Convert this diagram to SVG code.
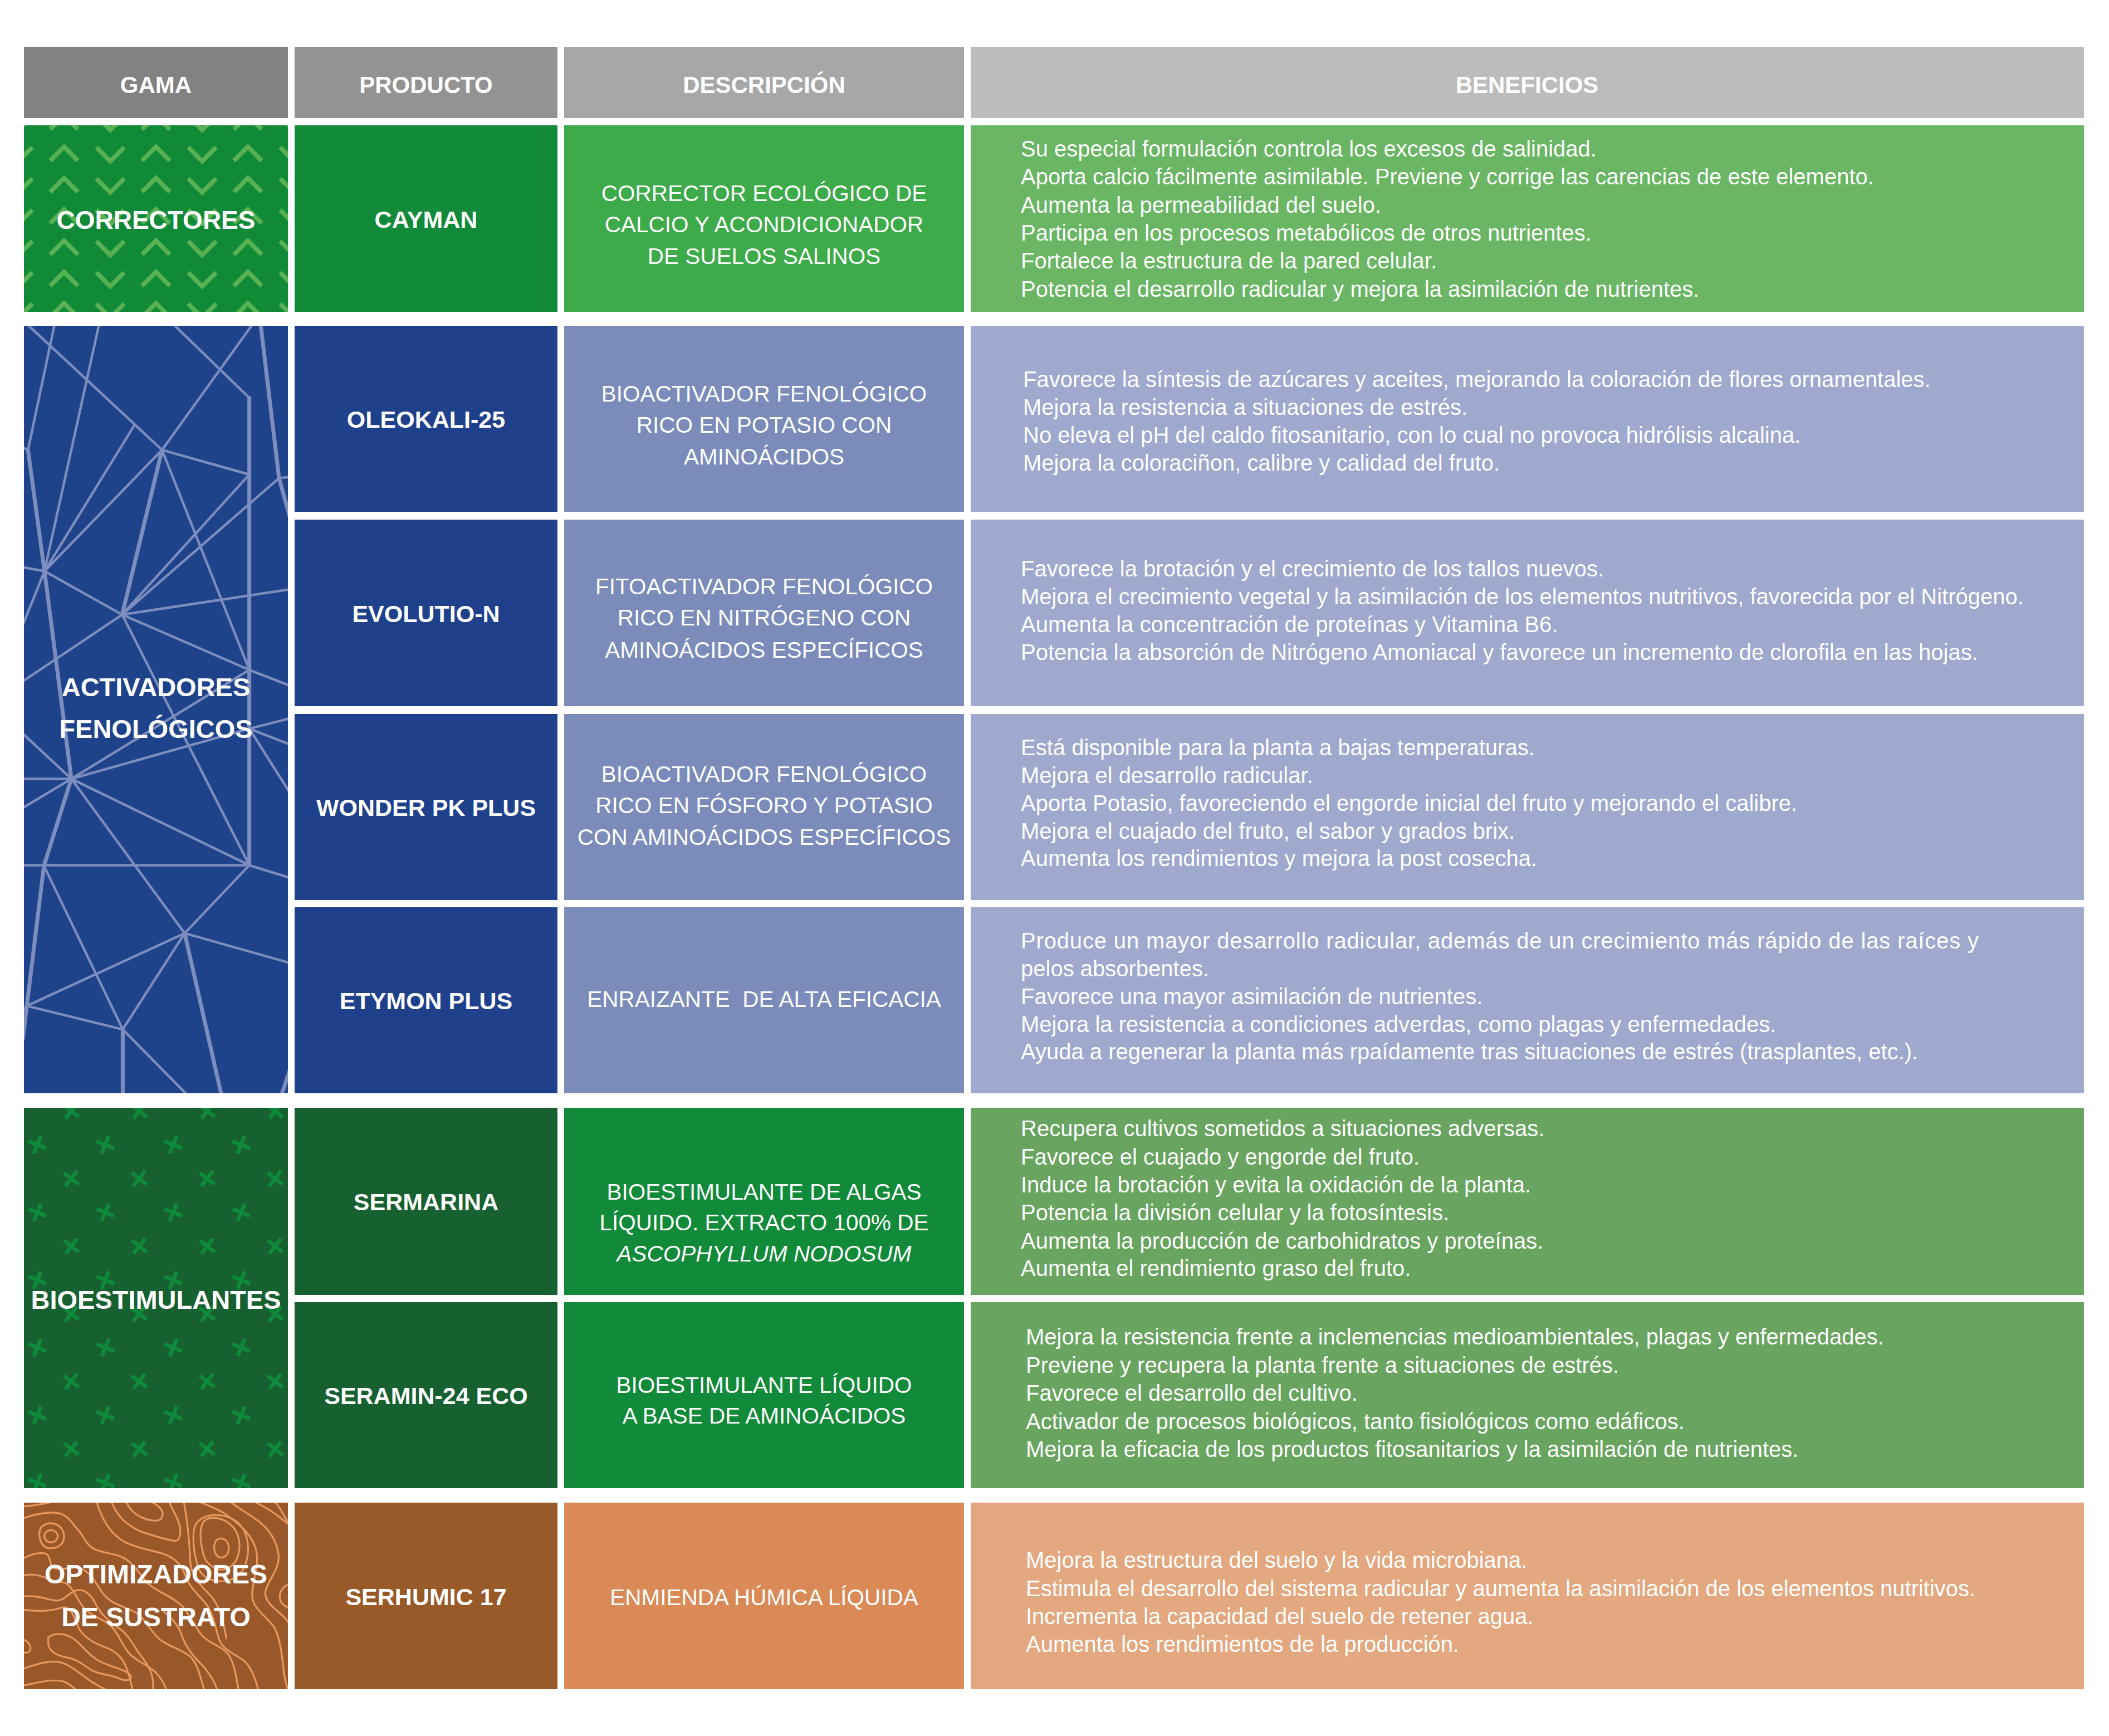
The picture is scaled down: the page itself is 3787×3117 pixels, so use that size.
<svg xmlns="http://www.w3.org/2000/svg" width="3787" height="3117" viewBox="0 0 3787 3117">
<style>
text{font-family:"Liberation Sans",Arial,sans-serif;fill:#ffffff}
.hd{font-weight:bold;font-size:42px;text-anchor:middle}
.gm{font-weight:bold;font-size:47px;text-anchor:middle}
.pr{font-weight:bold;font-size:43px;text-anchor:middle}
.ds{font-size:40.5px;text-anchor:middle}
.bn{font-size:40px}
.net{fill:none;stroke:#7d8dbe;vector-effect:non-scaling-stroke;stroke-linecap:round}
.topo{fill:none;stroke:#e8985e;stroke-width:3.2;vector-effect:non-scaling-stroke}
</style>
<defs>
<pattern id="pChev" patternUnits="userSpaceOnUse" x="74" y="23.7" width="165" height="56.2">
<g fill="none" stroke="#58b152" stroke-width="8">
<polyline points="16,40 41,15 66,40"/>
<polyline points="99,16 124,41 149,16"/>
</g>
</pattern>
<pattern id="pCross" patternUnits="userSpaceOnUse" x="36.5" y="2025.15" width="122" height="121.4">
<g stroke="#0e8a3b" stroke-width="6.5">
<g transform="translate(30.5,30.35) rotate(22)"><line x1="-17" y1="0" x2="17" y2="0"/><line x1="0" y1="-17" x2="0" y2="17"/></g>
<g transform="translate(91.5,91.05) rotate(38)"><line x1="-17" y1="0" x2="17" y2="0"/><line x1="0" y1="-17" x2="0" y2="17"/></g>
</g>
</pattern>
<clipPath id="cAct"><rect x="43" y="585" width="474" height="1378"/></clipPath>
<clipPath id="cOpt"><rect x="43" y="2698" width="474" height="335"/></clipPath>
</defs>
<rect width="3787" height="3117" fill="#ffffff"/>

<g id="header">
<rect x="43" y="84" width="474" height="128" fill="#818281"/>
<rect x="529" y="84" width="472" height="128" fill="#929392"/>
<rect x="1013" y="84" width="718" height="128" fill="#a6a7a6"/>
<rect x="1743" y="84" width="1999" height="128" fill="#bcbcbc"/>
<text class="hd" x="280" y="167">GAMA</text>
<text class="hd" x="765" y="167">PRODUCTO</text>
<text class="hd" x="1372" y="167">DESCRIPCIÓN</text>
<text class="hd" x="2742" y="167">BENEFICIOS</text>
</g>

<g id="gama-correctores">
<rect x="43" y="225" width="474" height="335" fill="#118a38"/>
<rect x="43" y="225" width="474" height="335" fill="url(#pChev)"/>
<text class="gm" x="280" y="411" style="font-size:46px">CORRECTORES</text>
</g>

<g id="gama-activadores">
<rect x="43" y="585" width="474" height="1378" fill="#1e438b"/>
<g clip-path="url(#cAct)">
<g transform="translate(0,560) scale(0.34435,0.91827)">
<path class="net" stroke-width="4.5" d="M150,27 L845,270 M283,27 L146,270 M146,270 L100,262 M515,27 L232,507 M700,222 L232,507 M845,270 L232,507 M845,270 L1300,318 M845,270 L1300,700 M845,270 L1312,27 M912,27 L1300,168 M1455,325 L1540,322 M1455,325 L637,592 M1300,318 L637,592 M232,507 L637,592 M100,498 L232,507 M100,630 L232,507 M637,592 L1540,541 M637,592 L1300,700 M637,592 L1300,1082 M100,727 L637,592 M1300,700 L1540,735 M372,913 L1300,700 M372,913 L1300,815 M1300,815 L1540,792 M1300,815 L1540,850 M1300,815 L1540,957 M100,818 L372,913 M100,913 L372,913 M100,974 L372,913 M372,913 L1300,1082 M372,913 L963,1215 M100,1082 L1300,1082 M1300,1082 L1540,1110 M1300,1082 L963,1215 M229,1083 L640,1403 M963,1215 L140,1357 M963,1215 L640,1403 M963,1215 L1540,1276 M140,1357 L640,1403 M140,1357 L100,1376 M640,1403 L1000,1540"/>
<path class="net" stroke-width="7" d="M146,270 L232,507 L372,913 M845,270 L637,592 M1300,168 L1300,1082 M1360,27 L1455,325 L1540,440 M372,913 L229,1083 L140,1357 L120,1420 M963,1215 L1160,1540 M640,1403 L640,1540 M1540,1450 L1460,1540"/>
</g>
</g>
<text class="gm" x="280" y="1250">ACTIVADORES</text>
<text class="gm" x="280" y="1325">FENOLÓGICOS</text>
</g>

<g id="gama-bioestimulantes">
<rect x="43" y="1989" width="474" height="683" fill="#176130"/>
<rect x="43" y="1989" width="474" height="683" fill="url(#pCross)"/>
<text class="gm" x="280" y="2350">BIOESTIMULANTES</text>
</g>

<g id="gama-optimizadores">
<rect x="43" y="2698" width="474" height="335" fill="#98582a"/>
<g clip-path="url(#cOpt)">
<g transform="translate(40,2690) scale(0.33333)">
<path class="topo" d="M0,45 C80,40 140,25 170,18"/>
<path class="topo" d="M0,110 C60,90 130,70 190,80 C250,90 270,140 300,170 C330,200 340,250 390,275 C450,300 520,300 560,330 C620,370 640,430 690,470 C740,510 810,530 860,580 C900,620 930,690 960,730 C1000,780 1060,790 1100,830 C1140,870 1150,950 1170,1060"/>
<path class="topo" d="M100,160 C130,120 200,130 220,180 C240,240 200,270 150,270 C100,270 80,200 100,160 Z"/>
<ellipse class="topo" cx="155" cy="205" rx="36" ry="33"/>
<path class="topo" d="M0,330 C40,300 100,290 130,300 C160,320 140,370 180,380 C230,390 270,360 320,380 C380,410 400,470 440,520 C480,570 540,580 600,610 C660,640 690,720 740,760 C790,800 850,810 900,850 C950,890 960,980 990,1060"/>
<path class="topo" d="M0,420 C50,400 110,420 150,440 C190,460 220,440 250,470 C290,510 300,560 340,600 C380,640 440,650 480,690 C520,730 540,800 580,840 C620,880 680,900 720,940 C760,980 770,1020 790,1060"/>
<path class="topo" d="M0,530 C60,520 120,540 170,550 C220,560 240,520 280,500 C330,480 370,520 390,560 C420,620 460,660 520,700 C580,740 600,800 640,850 C680,900 720,960 700,1060"/>
<path class="topo" d="M0,600 C70,610 150,610 210,590 C260,575 280,640 300,690 C320,740 380,780 440,800 C500,820 540,860 560,910 C575,950 590,1000 600,1060"/>
<path class="topo" d="M0,760 C40,770 60,820 30,830 C15,835 5,830 0,826"/>
<path class="topo" d="M0,920 C60,900 120,880 170,880 C230,880 280,920 320,950 C360,980 400,1010 470,1040"/>
<path class="topo" d="M0,1010 C100,990 170,970 230,990 C270,1010 300,1040 310,1060"/>
<path class="topo" d="M140,750 C180,720 240,730 280,760 C330,800 360,850 420,880 C480,910 550,920 580,950 C600,980 560,990 520,970 C470,950 420,950 380,930 C330,900 300,870 250,860 C190,850 150,830 140,790 Z"/>
<path class="topo" d="M560,18 C580,70 630,110 700,120 C760,130 770,80 740,50 C720,30 700,22 690,18"/>
<path class="topo" d="M480,18 C510,100 570,150 640,180 C700,200 760,220 820,230 C860,230 860,160 830,100 C810,60 800,40 790,18"/>
<path class="topo" d="M400,18 C430,120 480,200 560,240 C620,270 700,280 760,300 C820,320 860,360 880,420 C900,480 950,520 990,570 C1030,620 1040,700 1060,760 C1080,820 1150,840 1200,880 C1240,920 1260,990 1280,1060"/>
<path class="topo" d="M870,18 C890,120 900,220 905,340 C910,420 960,470 1010,520 C1070,580 1090,700 1100,760"/>
<path class="topo" d="M960,22 C1000,40 1060,60 1100,90 C1170,140 1240,200 1260,280 C1280,380 1230,460 1240,540 C1250,600 1320,640 1360,700 C1390,760 1400,850 1410,950 C1420,1000 1430,1030 1440,1060"/>
<path class="topo" d="M1120,18 C1170,60 1230,90 1280,130 C1330,170 1370,230 1380,300 C1390,380 1330,430 1310,500 C1300,560 1370,600 1410,640 C1430,660 1440,680 1450,690"/>
<path class="topo" d="M1250,18 C1290,40 1330,60 1370,90 C1410,120 1430,140 1450,150"/>
<path class="topo" d="M1360,18 C1390,50 1400,80 1420,110 C1430,130 1440,135 1450,140"/>
<path class="topo" d="M1450,460 C1400,470 1380,510 1390,550 C1400,580 1430,590 1450,590"/>
<path class="topo" d="M930,150 C960,80 1080,70 1160,130 C1240,200 1230,360 1160,420 C1090,470 980,450 950,380 C930,320 910,220 930,150 Z"/>
<path class="topo" d="M1040,235 C1060,205 1100,215 1110,250 C1120,290 1100,320 1070,320 C1040,318 1025,270 1040,235 Z"/>
<path class="topo" d="M975,130 C1000,90 1080,100 1130,150 C1190,210 1180,330 1120,370 C1060,410 990,360 975,300 C960,240 950,170 975,130 Z"/>
<path class="topo" d="M1060,1060 C1040,990 1000,930 960,890 C920,850 880,800 860,740 C840,680 800,640 760,610"/>
</g>
</g>
<text class="gm" x="280" y="2843" style="font-size:48px">OPTIMIZADORES</text>
<text class="gm" x="280" y="2920" style="font-size:48px">DE SUSTRATO</text>
</g>

<g id="row-cayman">
<rect x="529" y="225" width="472" height="335" fill="#118b3a"/>
<rect x="1013" y="225" width="718" height="335" fill="#3dab49"/>
<rect x="1743" y="225" width="1999" height="335" fill="#6ab664"/>
<text class="pr" x="765" y="409">CAYMAN</text>
<text class="ds" x="1372" y="360.5">CORRECTOR ECOLÓGICO DE</text>
<text class="ds" x="1372" y="417">CALCIO Y ACONDICIONADOR</text>
<text class="ds" x="1372" y="474">DE SUELOS SALINOS</text>
<text class="bn" x="1833" y="280.5">Su especial formulación controla los excesos de salinidad.</text>
<text class="bn" x="1833" y="331">Aporta calcio fácilmente asimilable. Previene y corrige las carencias de este elemento.</text>
<text class="bn" x="1833" y="381.5">Aumenta la permeabilidad del suelo.</text>
<text class="bn" x="1833" y="431.7">Participa en los procesos metabólicos de otros nutrientes.</text>
<text class="bn" x="1833" y="482">Fortalece la estructura de la pared celular.</text>
<text class="bn" x="1833" y="532.7">Potencia el desarrollo radicular y mejora la asimilación de nutrientes.</text>
</g>

<g id="row-oleokali">
<rect x="529" y="585" width="472" height="334" fill="#1f418c"/>
<rect x="1013" y="585" width="718" height="334" fill="#7b8bba"/>
<rect x="1743" y="585" width="1999" height="334" fill="#9fa8cd"/>
<text class="pr" x="765" y="768">OLEOKALI-25</text>
<text class="ds" x="1372" y="721">BIOACTIVADOR FENOLÓGICO</text>
<text class="ds" x="1372" y="777">RICO EN POTASIO CON</text>
<text class="ds" x="1372" y="834">AMINOÁCIDOS</text>
<text class="bn" x="1837" y="695.4">Favorece la síntesis de azúcares y aceites, mejorando la coloración de flores ornamentales.</text>
<text class="bn" x="1837" y="745">Mejora la resistencia a situaciones de estrés.</text>
<text class="bn" x="1837" y="795">No eleva el pH del caldo fitosanitario, con lo cual no provoca hidrólisis alcalina.</text>
<text class="bn" x="1837" y="845">Mejora la coloraciñon, calibre y calidad del fruto.</text>
</g>

<g id="row-evolutio">
<rect x="529" y="933" width="472" height="335" fill="#1f418c"/>
<rect x="1013" y="933" width="718" height="335" fill="#7b8bba"/>
<rect x="1743" y="933" width="1999" height="335" fill="#9fa8cd"/>
<text class="pr" x="765" y="1117">EVOLUTIO-N</text>
<text class="ds" x="1372" y="1067">FITOACTIVADOR FENOLÓGICO</text>
<text class="ds" x="1372" y="1123">RICO EN NITRÓGENO CON</text>
<text class="ds" x="1372" y="1181">AMINOÁCIDOS ESPECÍFICOS</text>
<text class="bn" x="1833" y="1035">Favorece la brotación y el crecimiento de los tallos nuevos.</text>
<text class="bn" x="1833" y="1085">Mejora el crecimiento vegetal y la asimilación de los elementos nutritivos, favorecida por el Nitrógeno.</text>
<text class="bn" x="1833" y="1135">Aumenta la concentración de proteínas y Vitamina B6.</text>
<text class="bn" x="1833" y="1185">Potencia la absorción de Nitrógeno Amoniacal y favorece un incremento de clorofila en las hojas.</text>
</g>

<g id="row-wonder">
<rect x="529" y="1282" width="472" height="334" fill="#1f418c"/>
<rect x="1013" y="1282" width="718" height="334" fill="#7b8bba"/>
<rect x="1743" y="1282" width="1999" height="334" fill="#9fa8cd"/>
<text class="pr" x="765" y="1465">WONDER PK PLUS</text>
<text class="ds" x="1372" y="1404">BIOACTIVADOR FENOLÓGICO</text>
<text class="ds" x="1372" y="1460">RICO EN FÓSFORO Y POTASIO</text>
<text class="ds" x="1372" y="1517">CON AMINOÁCIDOS ESPECÍFICOS</text>
<text class="bn" x="1833" y="1356">Está disponible para la planta a bajas temperaturas.</text>
<text class="bn" x="1833" y="1405.5">Mejora el desarrollo radicular.</text>
<text class="bn" x="1833" y="1455.5">Aporta Potasio, favoreciendo el engorde inicial del fruto y mejorando el calibre.</text>
<text class="bn" x="1833" y="1505.5">Mejora el cuajado del fruto, el sabor y grados brix.</text>
<text class="bn" x="1833" y="1555">Aumenta los rendimientos y mejora la post cosecha.</text>
</g>

<g id="row-etymon">
<rect x="529" y="1629" width="472" height="334" fill="#1f418c"/>
<rect x="1013" y="1629" width="718" height="334" fill="#7b8bba"/>
<rect x="1743" y="1629" width="1999" height="334" fill="#9fa8cd"/>
<text class="pr" x="765" y="1812">ETYMON PLUS</text>
<text class="ds" x="1372" y="1808" xml:space="preserve">ENRAIZANTE  DE ALTA EFICACIA</text>
<text class="bn" x="1833" y="1703" textLength="1720" lengthAdjust="spacing">Produce un mayor desarrollo radicular, además de un crecimiento más rápido de las raíces y</text>
<text class="bn" x="1833" y="1753">pelos absorbentes.</text>
<text class="bn" x="1833" y="1803">Favorece una mayor asimilación de nutrientes.</text>
<text class="bn" x="1833" y="1853">Mejora la resistencia a condiciones adverdas, como plagas y enfermedades.</text>
<text class="bn" x="1833" y="1902">Ayuda a regenerar la planta más rpaídamente tras situaciones de estrés (trasplantes, etc.).</text>
</g>

<g id="row-sermarina">
<rect x="529" y="1989" width="472" height="336" fill="#176130"/>
<rect x="1013" y="1989" width="718" height="336" fill="#118b3a"/>
<rect x="1743" y="1989" width="1999" height="336" fill="#69a460"/>
<text class="pr" x="765" y="2173">SERMARINA</text>
<text class="ds" x="1372" y="2154">BIOESTIMULANTE DE ALGAS</text>
<text class="ds" x="1372" y="2209">LÍQUIDO. EXTRACTO 100% DE</text>
<text class="ds" x="1372" y="2265" font-style="italic">ASCOPHYLLUM NODOSUM</text>
<text class="bn" x="1833" y="2040">Recupera cultivos sometidos a situaciones adversas.</text>
<text class="bn" x="1833" y="2090.5">Favorece el cuajado y engorde del fruto.</text>
<text class="bn" x="1833" y="2140.5">Induce la brotación y evita la oxidación de la planta.</text>
<text class="bn" x="1833" y="2191">Potencia la división celular y la fotosíntesis.</text>
<text class="bn" x="1833" y="2241.5">Aumenta la producción de carbohidratos y proteínas.</text>
<text class="bn" x="1833" y="2291">Aumenta el rendimiento graso del fruto.</text>
</g>

<g id="row-seramin">
<rect x="529" y="2338" width="472" height="334" fill="#176130"/>
<rect x="1013" y="2338" width="718" height="334" fill="#118b3a"/>
<rect x="1743" y="2338" width="1999" height="334" fill="#69a460"/>
<text class="pr" x="765" y="2521">SERAMIN-24 ECO</text>
<text class="ds" x="1372" y="2501">BIOESTIMULANTE LÍQUIDO</text>
<text class="ds" x="1372" y="2556">A BASE DE AMINOÁCIDOS</text>
<text class="bn" x="1842" y="2414">Mejora la resistencia frente a inclemencias medioambientales, plagas y enfermedades.</text>
<text class="bn" x="1842" y="2464.5">Previene y recupera la planta frente a situaciones de estrés.</text>
<text class="bn" x="1842" y="2515">Favorece el desarrollo del cultivo.</text>
<text class="bn" x="1842" y="2565.5">Activador de procesos biológicos, tanto fisiológicos como edáficos.</text>
<text class="bn" x="1842" y="2615.5">Mejora la eficacia de los productos fitosanitarios y la asimilación de nutrientes.</text>
</g>

<g id="row-serhumic">
<rect x="529" y="2698" width="472" height="335" fill="#985a29"/>
<rect x="1013" y="2698" width="718" height="335" fill="#da8a57"/>
<rect x="1743" y="2698" width="1999" height="335" fill="#e3a87f"/>
<text class="pr" x="765" y="2882">SERHUMIC 17</text>
<text class="ds" x="1372" y="2882">ENMIENDA HÚMICA LÍQUIDA</text>
<text class="bn" x="1842" y="2815">Mejora la estructura del suelo y la vida microbiana.</text>
<text class="bn" x="1842" y="2866">Estimula el desarrollo del sistema radicular y aumenta la asimilación de los elementos nutritivos.</text>
<text class="bn" x="1842" y="2916">Incrementa la capacidad del suelo de retener agua.</text>
<text class="bn" x="1842" y="2966">Aumenta los rendimientos de la producción.</text>
</g>

<g id="connectors"></g>
</svg>
